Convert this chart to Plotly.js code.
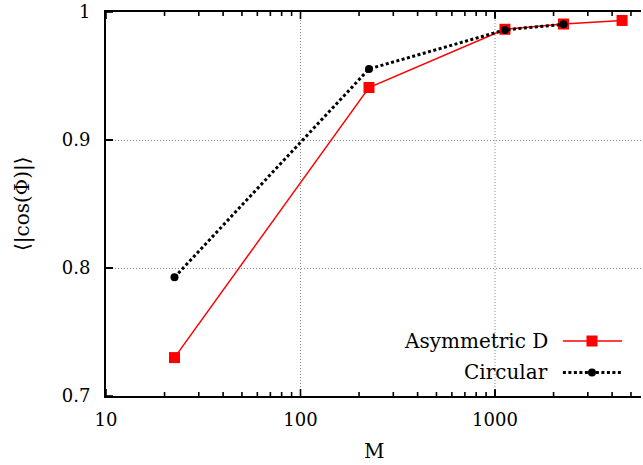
<!DOCTYPE html>
<html>
<head>
<meta charset="utf-8">
<script src="https://cdn.plot.ly/plotly-3.0.1.min.js"></script>
<style>
  html, body { margin: 0; padding: 0; background: #fff; overflow: hidden; }
  #chart { width: 643px; height: 465px; }
</style>
</head>
<body>
<div id="chart"></div>
<script>
// Mean |cos(Phi)| against M for the two geometries
const mAsym = [22.5, 225, 1125, 2250, 4500];
const cosAsym = [0.730, 0.941, 0.9865, 0.9906, 0.9934];

const mCirc = [22.5, 225, 1125, 2250];
const cosCirc = [0.7927, 0.9555, 0.986, 0.9904];

const seriesNames = ["Asymmetric D", "Circular"];

const xTickVals = [10, 100, 1000];
const xTickText = ["10", "100", "1000"];
const yTickVals = [0.7, 0.8, 0.9, 1.0];
const yTickText = ["0.7", "0.8", "0.9", "1"];

// log-axis minor positions: 2..9 in every decade
const xMinorVals = [];
for (let d = 10; d <= 1000; d *= 10) {
  for (let k = 2; k <= 9; k++) xMinorVals.push(k * d);
}

const serif = "DejaVu Serif, serif";
const gridStyle = { color: "#888", width: 1, dash: "1px,2px" };
const tickLine = { color: "#000", width: 1.6 };

const traces = [
  {
    x: mAsym, y: cosAsym, name: seriesNames[0],
    type: "scatter", mode: "lines+markers",
    line: { color: "#ff0000", width: 1.5 },
    marker: { symbol: "square", size: 11, color: "#ff0000" },
    showlegend: false
  },
  {
    x: mCirc, y: cosCirc, name: seriesNames[1],
    type: "scatter", mode: "lines+markers",
    line: { color: "#000000", width: 3, dash: "3px,2.5px" },
    marker: { symbol: "circle", size: 8, color: "#000000" },
    showlegend: false
  }
];

// vertical grid only at the labelled decades
const shapes = xTickVals.slice(1).map(v => ({
  type: "line", xref: "x", yref: "paper", x0: v, x1: v, y0: 0, y1: 1,
  layer: "below", line: gridStyle
}));

// inward tick marks on the bottom and top frame
function xTick(v, len) {
  shapes.push(
    { type: "line", xref: "x", yref: "paper", ysizemode: "pixel", yanchor: 0,
      x0: v, x1: v, y0: 0, y1: len, line: tickLine },
    { type: "line", xref: "x", yref: "paper", ysizemode: "pixel", yanchor: 1,
      x0: v, x1: v, y0: -len, y1: 0, line: tickLine }
  );
}
xTickVals.forEach(v => xTick(v, 7));
xMinorVals.forEach(v => xTick(v, 4));

// inward tick marks on the left frame
yTickVals.forEach(v => shapes.push(
  { type: "line", xref: "paper", yref: "y", xsizemode: "pixel", xanchor: 0,
    x0: 0, x1: 7, y0: v, y1: v, line: tickLine }
));

// legend keys sit to the right of their labels
const keyX0 = 0.854, keyX1 = 0.9645, keyMid = 0.9084;
const keyY = [0.1432, 0.0612];
const labelX = 0.83;

shapes.push(
  { type: "line", xref: "paper", yref: "paper", x0: keyX0, x1: keyX1, y0: keyY[0], y1: keyY[0],
    line: { color: "#ff0000", width: 1.5 } },
  { type: "rect", xref: "paper", yref: "paper", xsizemode: "pixel", ysizemode: "pixel",
    xanchor: keyMid, yanchor: keyY[0], x0: -5.5, x1: 5.5, y0: -5.5, y1: 5.5,
    fillcolor: "#ff0000", line: { width: 0 } },
  { type: "line", xref: "paper", yref: "paper", x0: keyX0, x1: keyX1, y0: keyY[1], y1: keyY[1],
    line: { color: "#000000", width: 3, dash: "3px,2.5px" } },
  { type: "circle", xref: "paper", yref: "paper", xsizemode: "pixel", ysizemode: "pixel",
    xanchor: keyMid, yanchor: keyY[1], x0: -4, x1: 4, y0: -4, y1: 4,
    fillcolor: "#000000", line: { width: 0 } }
);

const annotations = seriesNames.map((n, i) => ({
  text: n, xref: "paper", yref: "paper", x: labelX, y: keyY[i],
  xanchor: "right", yanchor: "middle", showarrow: false,
  font: { family: serif, size: 20, color: "#000" }
}));

// axis titles
annotations.push(
  { text: "M", xref: "paper", yref: "paper", x: 0.5, y: 0, yshift: -55,
    xanchor: "center", yanchor: "middle", showarrow: false,
    font: { family: serif, size: 20, color: "#000" } },
  { text: "⟨|cos(Φ)|⟩", xref: "paper", yref: "paper", x: 0, y: 0.5, xshift: -84,
    xanchor: "center", yanchor: "middle", textangle: -90, showarrow: false,
    font: { family: serif, size: 20, color: "#000" } }
);

const layout = {
  width: 643, height: 465,
  margin: { l: 106, r: 2, t: 12, b: 69 },
  paper_bgcolor: "#fff", plot_bgcolor: "#fff",
  font: { family: serif, size: 18, color: "#000" },
  xaxis: {
    type: "log", range: [1, 3.7506],
    tickmode: "array", tickvals: xTickVals, ticktext: xTickText,
    ticks: "inside", ticklen: 6, tickwidth: 1.6, tickcolor: "#000",
    showline: true, linecolor: "#000", linewidth: 2, mirror: "ticks",
    showgrid: false, zeroline: false, ticklabelstandoff: 6
  },
  yaxis: {
    range: [0.7, 1.0],
    tickmode: "array", tickvals: yTickVals, ticktext: yTickText,
    ticks: "inside", ticklen: 7, tickwidth: 1.6, tickcolor: "#000",
    showline: true, linecolor: "#000", linewidth: 2, mirror: false,
    showgrid: true, gridcolor: gridStyle.color, griddash: gridStyle.dash, gridwidth: 1,
    zeroline: false, ticklabelstandoff: 10
  },
  shapes: shapes,
  annotations: annotations,
  showlegend: false
};

Plotly.newPlot("chart", traces, layout, { displayModeBar: false, staticPlot: true });
</script>
</body>
</html>
